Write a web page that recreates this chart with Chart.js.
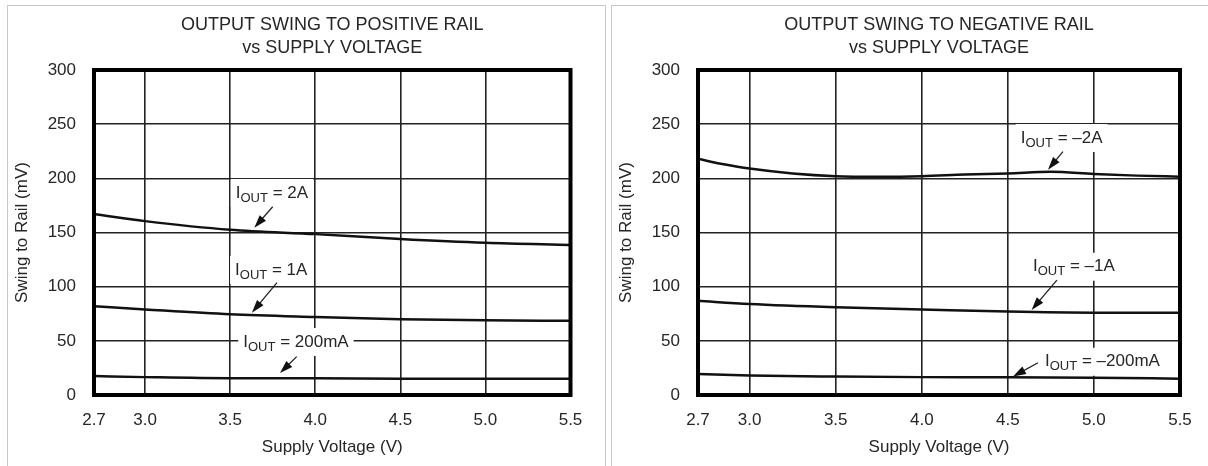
<!DOCTYPE html>
<html>
<head>
<meta charset="utf-8">
<script src="https://cdn.jsdelivr.net/npm/chart.js"></script>
<style>
  body{margin:0;background:#fff;width:1208px;height:466px;overflow:hidden;position:relative;font-family:"Liberation Sans",Arial,sans-serif}
  .panel{position:absolute;top:5px;height:470px;border:1px solid #c8c8c8;border-bottom:none;box-sizing:border-box}
  canvas{position:absolute;top:0}
</style>
</head>
<body>
<div class="panel" style="left:7px;width:599px"></div>
<div class="panel" style="left:611px;width:610px"></div>
<canvas id="posChart" width="604" height="466" style="left:0"></canvas>
<canvas id="negChart" width="604" height="466" style="left:604px"></canvas>
<script>
// supply voltage (V) and swing to rail (mV)
const voltage = [2.7, 3.0, 3.5, 4.0, 4.5, 5.0, 5.5];
const posSwing2A = [167, 160.5, 152.5, 148.5, 144, 140.5, 138.5];
const posSwing1A = [82, 79, 74.5, 72, 70, 69, 68.5];
const posSwing200mA = [17.5, 16.5, 15.5, 15.5, 15, 15, 15];

const negVoltage2A = [2.7, 2.85, 3.0, 3.25, 3.5, 3.75, 4.0, 4.25, 4.5, 4.75, 5.0, 5.25, 5.5];
const negSwing2A = [218, 213, 209, 204.5, 202, 201.5, 202, 203.5, 204.5, 206, 204, 202.5, 201.5];
const negSwing1A = [87, 84, 81, 79, 77, 76, 76];
const negSwing200mA = [19.5, 18, 17, 16.5, 16.5, 16, 15];

const xTicks = [2.7, 3.0, 3.5, 4.0, 4.5, 5.0, 5.5];
const yMin = 0, yMax = 300, yStep = 50;

// callout labels: text anchor and arrow in data units
const posCallouts = [
  {label: " = 2A", x: 3.533, y: 186.5, from: [3.75, 173.8], to: [3.642, 154.4]},
  {label: " = 1A", x: 3.529, y: 115.4, from: [3.775, 103.7], to: [3.628, 76.0]},
  {label: " = 200mA", x: 3.577, y: 48.9, from: [3.891, 35.4], to: [3.793, 20.3]}
];
const negCallouts = [
  {label: " = \u20132A", x: 4.575, y: 237.2, from: [4.82, 224.6], to: [4.733, 208]},
  {label: " = \u20131A", x: 4.646, y: 118.4, from: [4.785, 106.1], to: [4.638, 78.5]},
  {label: " = \u2013200mA", x: 4.716, y: 30.7, from: [4.675, 29.8], to: [4.53, 17]}
];

const FONT = "'Liberation Sans', Arial, sans-serif";
const TXT = "#262626";

function pts(xs, ys){ return xs.map((x, i) => ({x: x, y: ys[i]})); }

function curve(data){
  return {data: data, borderColor: "#111", borderWidth: 2.5, pointRadius: 0,
          cubicInterpolationMode: "monotone", fill: false};
}

function measureCallout(ctx, c){
  ctx.font = "17px " + FONT;
  const wI = ctx.measureText("I").width;
  ctx.font = "13px " + FONT;
  const wS = ctx.measureText("OUT").width;
  ctx.font = "17px " + FONT;
  const wL = ctx.measureText(c.label).width;
  return {wI, wS, wL, w: wI + wS + wL};
}

const calloutPlugin = {
  id: "callouts",
  beforeDatasetsDraw(chart){
    const list = chart.options.plugins.callouts.items;
    const ctx = chart.ctx, xs = chart.scales.x, ys = chart.scales.y;
    ctx.save();
    ctx.fillStyle = "#fff";
    list.forEach(c => {
      const m = measureCallout(ctx, c);
      const px = xs.getPixelForValue(c.x), py = ys.getPixelForValue(c.y);
      ctx.fillRect(px - 5, py - 14, m.w + 10, 28);
    });
    ctx.restore();
  },
  afterDatasetsDraw(chart){
    const list = chart.options.plugins.callouts.items;
    const ctx = chart.ctx, xs = chart.scales.x, ys = chart.scales.y;
    ctx.save();
    ctx.textBaseline = "middle";
    ctx.textAlign = "left";
    list.forEach(c => {
      const m = measureCallout(ctx, c);
      const px = xs.getPixelForValue(c.x), py = ys.getPixelForValue(c.y);
      ctx.fillStyle = TXT;
      ctx.font = "17px " + FONT;
      ctx.fillText("I", px, py);
      ctx.font = "13px " + FONT;
      ctx.fillText("OUT", px + m.wI, py + 5);
      ctx.font = "17px " + FONT;
      ctx.fillText(c.label, px + m.wI + m.wS, py);

      const x0 = xs.getPixelForValue(c.from[0]), y0 = ys.getPixelForValue(c.from[1]);
      const x1 = xs.getPixelForValue(c.to[0]), y1 = ys.getPixelForValue(c.to[1]);
      const a = Math.atan2(y1 - y0, x1 - x0);
      ctx.strokeStyle = "#222";
      ctx.lineWidth = 1.3;
      ctx.beginPath();
      ctx.moveTo(x0, y0);
      ctx.lineTo(x1 - Math.cos(a) * 6, y1 - Math.sin(a) * 6);
      ctx.stroke();
      ctx.fillStyle = "#111";
      ctx.beginPath();
      ctx.moveTo(x1, y1);
      ctx.lineTo(x1 - Math.cos(a) * 13 + Math.sin(a) * 4.2, y1 - Math.sin(a) * 13 - Math.cos(a) * 4.2);
      ctx.lineTo(x1 - Math.cos(a) * 13 - Math.sin(a) * 4.2, y1 - Math.sin(a) * 13 + Math.cos(a) * 4.2);
      ctx.closePath();
      ctx.fill();
    });
    ctx.restore();
  },
  afterDraw(chart){
    const a = chart.chartArea, ctx = chart.ctx;
    ctx.save();
    ctx.strokeStyle = "#000";
    ctx.lineWidth = 4;
    ctx.strokeRect(a.left, a.top, a.right - a.left, a.bottom - a.top);
    ctx.restore();
  }
};

function makeChart(id, title, datasets, callouts, padRight){
  return new Chart(document.getElementById(id), {
    type: "line",
    data: {datasets: datasets},
    plugins: [calloutPlugin],
    options: {
      responsive: false,
      animation: false,
      events: [],
      layout: {padding: {left: 0, right: padRight, top: 0, bottom: 0}},
      plugins: {
        legend: {display: false},
        tooltip: {enabled: false},
        title: {display: true, text: title, color: TXT, fullSize: false,
                font: {family: FONT, size: 18, weight: "normal", lineHeight: 1.25},
                padding: {top: 14, bottom: 11}},
        callouts: {items: callouts}
      },
      scales: {
        x: {
          type: "linear", min: xTicks[0], max: xTicks[xTicks.length - 1],
          afterBuildTicks: s => { s.ticks = xTicks.map(v => ({value: v})); },
          afterFit: s => { s.height = 71; },
          ticks: {color: TXT, padding: 15, maxRotation: 0, autoSkip: false,
                  font: {family: FONT, size: 17}, callback: v => Number(v).toFixed(1)},
          grid: {color: "#222", lineWidth: 1.6, drawTicks: false},
          border: {display: false},
          title: {display: true, text: "Supply Voltage (V)", color: TXT,
                  font: {family: FONT, size: 17}, padding: {top: 0, bottom: 8}}
        },
        y: {
          min: yMin, max: yMax,
          afterFit: s => { s.width = 94; },
          ticks: {stepSize: yStep, color: TXT, padding: 18, font: {family: FONT, size: 17}},
          grid: {color: "#222", lineWidth: 1.6, drawTicks: false},
          border: {display: false},
          title: {display: true, text: "Swing to Rail (mV)", color: TXT,
                  font: {family: FONT, size: 17}, padding: {top: 12, bottom: 0}}
        }
      }
    }
  });
}

makeChart("posChart", ["OUTPUT SWING TO POSITIVE RAIL", "vs SUPPLY VOLTAGE"], [
  curve(pts(voltage, posSwing2A)),
  curve(pts(voltage, posSwing1A)),
  curve(pts(voltage, posSwing200mA))
], posCallouts, 33.5);

makeChart("negChart", ["OUTPUT SWING TO NEGATIVE RAIL", "vs SUPPLY VOLTAGE"], [
  curve(pts(negVoltage2A, negSwing2A)),
  curve(pts(voltage, negSwing1A)),
  curve(pts(voltage, negSwing200mA))
], negCallouts, 28);
</script>
</body>
</html>
